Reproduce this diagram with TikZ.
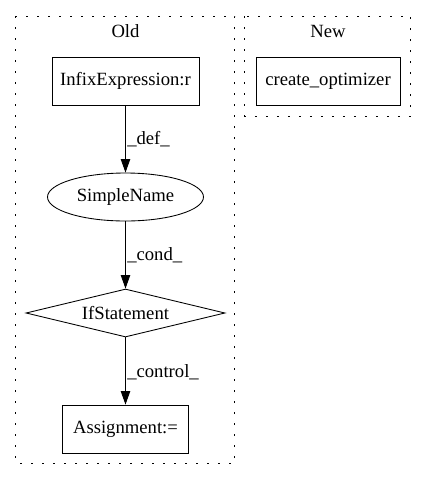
\documentclass[tikz,border=0pt]{standalone}
\usepackage{fontspec}
\setmainfont{Liberation Serif}
\usetikzlibrary{shapes.geometric,arrows.meta}
\begin{document}
\begin{tikzpicture}[x=0.75pt,y=-0.75pt,
  every node/.style={font=\fontsize{14pt}{16pt}\selectfont, inner sep=0pt},
  boxnode/.style={draw, rectangle, line width=0.65pt, minimum height=36pt},
  ellnode/.style={draw, ellipse, line width=0.65pt, minimum width=117pt, minimum height=36pt},
  dianode/.style={draw, diamond, line width=0.65pt, shape aspect=4.1, minimum width=149.25pt, minimum height=36pt},
  cluster/.style={line width=0.75pt, dash pattern=on 1.5pt off 6.75pt},
  edge/.style={line width=0.65pt, -{Triangle[length=10pt,width=7pt]}},
  elabel/.style={anchor=west}
]
\useasboundingbox (0,0) rectangle (427,480);
\draw[cluster] (16,16) rectangle (235,463);
\draw[cluster] (245,16) rectangle (411,116);
\node (oldt) at (125.5,31) {Old};
\node (newt) at (328,31) {New};
\node[boxnode, minimum width=110.25pt] (infix) at (125.5,81) {InfixExpression:r};
\node[boxnode, minimum width=108pt] (create) at (328,81) {create\_optimizer};
\node[ellnode] (simple) at (125.5,197) {SimpleName};
\node[dianode] (ifst) at (125.5,313) {IfStatement};
\node[boxnode, minimum width=94.5pt] (assign) at (125.5,429) {Assignment:=};
\draw[edge] (infix) -- (simple);
\draw[edge] (simple) -- (ifst);
\draw[edge] (ifst) -- (assign);
\node[elabel] (l1) at (127,139) {\_def\_};
\node[elabel] (l2) at (127,255) {\_cond\_};
\node[elabel] (l3) at (127,372) {\_control\_};
\end{tikzpicture}
\end{document}
